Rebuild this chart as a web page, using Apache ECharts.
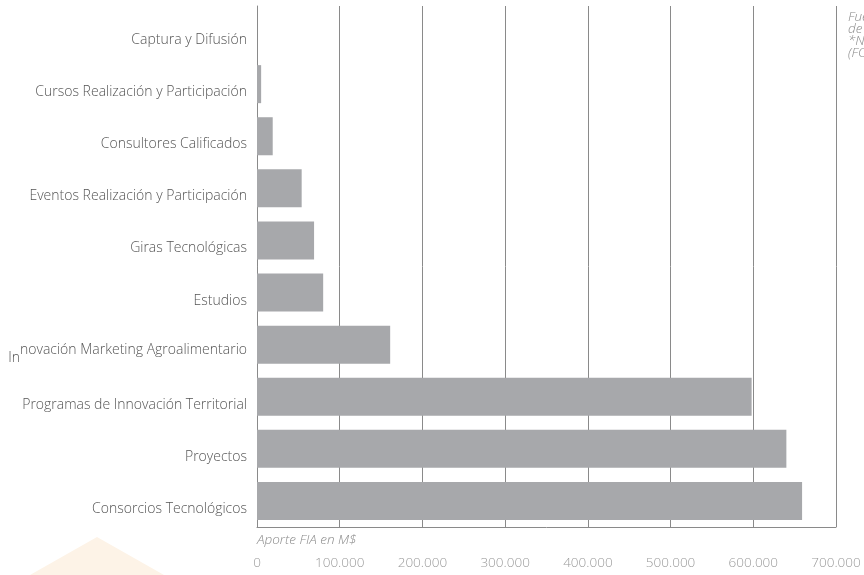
<!DOCTYPE html>
<html>
<head>
<meta charset="utf-8">
<script src="https://cdn.jsdelivr.net/npm/echarts@6/dist/echarts.min.js"></script>
<style>
  html, body { margin: 0; padding: 0; background: #fff; }
  #chart { width: 864px; height: 575px; }
</style>
</head>
<body>
<div id="chart"></div>
<script>
// categories, bottom to top as the y axis draws them
const categories = [
  'Consorcios Tecnológicos',
  'Proyectos',
  'Programas de Innovación Territorial',
  'Innovación Marketing Agroalimentario',
  'Estudios',
  'Giras Tecnológicas',
  'Eventos Realización y Participación',
  'Consultores Calificados',
  'Cursos Realización y Participación',
  'Captura y Difusión'
];
// Aporte FIA en M$
const aporte = [659000, 640000, 598000, 161000, 80000, 69000, 54000, 19000, 5000, 0];
const xTicks = [0, 100000, 200000, 300000, 400000, 500000, 600000, 700000];
const notes = ['Fuente:', 'de', '*Nota', '(FO'];

const chart = echarts.init(document.getElementById('chart'));

const fmt = v => v === 0 ? '0' : String(v).replace(/\B(?=(\d{3})+(?!\d))/g, '.');

const option = {
  animation: false,
  textStyle: { fontFamily: '"Open Sans", sans-serif' },
  grid: { left: 257, right: 28, top: 6, bottom: 48 },
  xAxis: {
    type: 'value',
    min: xTicks[0],
    max: xTicks[xTicks.length - 1],
    interval: 100000,
    axisLine: { show: true, lineStyle: { color: '#8a8a8a', width: 1 } },
    axisTick: { show: true, inside: true, length: 7, lineStyle: { color: '#8a8a8a' } },
    splitLine: { show: true, lineStyle: { color: '#8a8a8a', width: 1 } },
    axisLabel: {
      margin: 29,
      color: '#9a9a9a',
      fontSize: 13.5,
      fontWeight: 300,
      formatter: fmt
    }
  },
  yAxis: {
    type: 'category',
    data: categories,
    axisLine: { show: true, lineStyle: { color: '#8a8a8a', width: 1 } },
    axisTick: { show: false },
    axisLabel: {
      margin: 10,
      color: '#555',
      fontSize: 14,
      fontWeight: 300,
      padding: [16, 0, 0, 0],
      formatter: v => v.startsWith('Innovación Marketing')
        ? '{a|In}{b|' + v.slice(2) + '}'
        : v,
      rich: {
        a: { fontSize: 14, color: '#555', fontWeight: 300, padding: [10, 0, 0, 0] },
        b: { fontSize: 14, color: '#555', fontWeight: 300, padding: [0, 0, 6, 0] }
      }
    }
  },
  series: [{
    type: 'bar',
    data: aporte,
    barCategoryGap: '27%',
    itemStyle: { color: '#a7a8ab' },
    silent: true
  }],
  graphic: [
    {
      type: 'polygon',
      z: -1,
      shape: { points: [[30, 575], [97, 537], [164, 575]] },
      style: { fill: '#fdf3e7' }
    },
    {
      type: 'text',
      left: 257,
      top: 533,
      style: {
        text: 'Aporte FIA en M$',
        fill: '#8a8a8a',
        font: 'italic 300 13.5px "Open Sans", sans-serif'
      }
    },
    {
      type: 'text',
      left: 848,
      top: 10,
      style: {
        text: notes.join('\n'),
        fill: '#8a8a8a',
        lineHeight: 12,
        font: 'italic 300 13.5px "Open Sans", sans-serif'
      }
    }
  ]
};

chart.setOption(option);
</script>
</body>
</html>
